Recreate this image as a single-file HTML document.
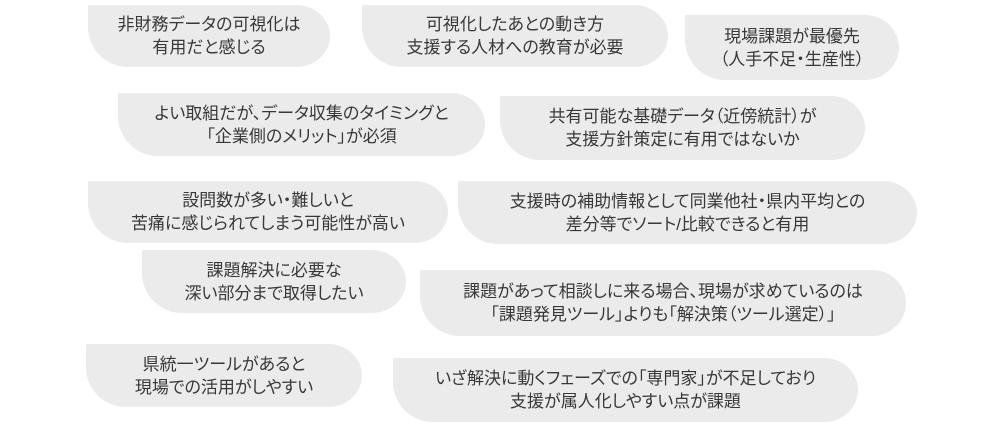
<!DOCTYPE html>
<html><head><meta charset="utf-8"><style>
body{margin:0;width:1000px;height:424px;background:#fff;position:relative;overflow:hidden;font-family:"Liberation Sans","Noto Sans CJK JP",sans-serif;}
.b{position:absolute;background:#ebebeb;border-radius:2px 34px 34px 40px / 2px 50% 50% 40px;display:flex;align-items:center;justify-content:center;text-align:center;color:#383838;font-size:17px;line-height:23px;white-space:nowrap;font-feature-settings:"palt";}
</style></head><body>
<div class="b" style="left:88px;top:5px;width:242px;height:62px">非財務データの可視化は<br>有用だと感じる</div>
<div class="b" style="left:362px;top:5px;width:306px;height:62px">可視化したあとの動き方<br>支援する人材への教育が必要</div>
<div class="b" style="left:685px;top:15px;width:214px;height:65px">現場課題が最優先<br>（人手不足・生産性）</div>
<div class="b" style="left:118px;top:93px;width:367px;height:63px">よい取組だが、データ収集のタイミングと<br>「企業側のメリット」が必須</div>
<div class="b" style="left:500px;top:96px;width:365px;height:64px">共有可能な基礎データ（近傍統計）が<br>支援方針策定に有用ではないか</div>
<div class="b" style="left:88px;top:181px;width:360px;height:62px">設問数が多い・難しいと<br>苦痛に感じられてしまう可能性が高い</div>
<div class="b" style="left:458px;top:181px;width:459px;height:63px">支援時の補助情報として同業他社・県内平均との<br>差分等でソート/比較できると有用</div>
<div class="b" style="left:142px;top:250px;width:264px;height:63px">課題解決に必要な<br>深い部分まで取得したい</div>
<div class="b" style="left:420px;top:270px;width:486px;height:66px">課題があって相談しに来る場合、現場が求めているのは<br>「課題発見ツール」よりも「解決策（ツール選定）」</div>
<div class="b" style="left:86px;top:344px;width:276px;height:63px">県統一ツールがあると<br>現場での活用がしやすい</div>
<div class="b" style="left:393px;top:358px;width:465px;height:64px">いざ解決に動くフェーズでの「専門家」が不足しており<br>支援が属人化しやすい点が課題</div>
</body></html>
